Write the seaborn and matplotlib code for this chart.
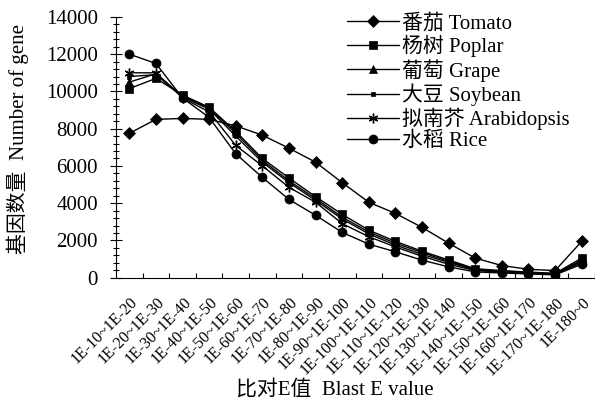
import numpy as np
import pandas as pd
import matplotlib
matplotlib.use("Agg")
import matplotlib.pyplot as plt
import seaborn as sns
from matplotlib.ticker import MultipleLocator, FixedLocator
from matplotlib.transforms import ScaledTranslation
from matplotlib.lines import Line2D

categories = ["1E-10~1E-20", "1E-20~1E-30", "1E-30~1E-40", "1E-40~1E-50",
              "1E-50~1E-60", "1E-60~1E-70", "1E-70~1E-80", "1E-80~1E-90",
              "1E-90~1E-100", "1E-100~1E-110", "1E-110~1E-120", "1E-120~1E-130",
              "1E-130~1E-140", "1E-140~1E-150", "1E-150~1E-160", "1E-160~1E-170",
              "1E-170~1E-180", "1E-180~0"]

tomato = [7750, 8500, 8550, 8500, 8150, 7650, 6950, 6200, 5100, 4050, 3450, 2700, 1850, 1050, 650, 450, 380, 1950]
poplar = [10150, 10700, 9800, 9150, 7850, 6400, 5350, 4350, 3400, 2550, 1950, 1420, 950, 480, 380, 300, 230, 1050]
grape = [10500, 10950, 9750, 9100, 7750, 6300, 5200, 4250, 3250, 2450, 1850, 1350, 880, 450, 350, 280, 210, 950]
soybean = [10800, 10900, 9700, 9050, 7600, 6200, 5100, 4150, 3150, 2350, 1750, 1250, 820, 420, 330, 260, 200, 880]
arabidopsis = [11000, 11000, 9650, 8900, 7100, 6000, 4850, 4050, 2900, 2200, 1650, 1150, 720, 380, 300, 240, 180, 800]
rice = [12000, 11500, 9650, 8600, 6650, 5380, 4200, 3350, 2430, 1800, 1390, 940, 580, 310, 250, 200, 150, 720]

series_names = ["番茄 Tomato", "杨树 Poplar", "葡萄 Grape", "大豆 Soybean",
                "拟南芥 Arabidopsis", "水稻 Rice"]
series_values = [tomato, poplar, grape, soybean, arabidopsis, rice]

y_ticks = [0, 2000, 4000, 6000, 8000, 10000, 12000, 14000]
x_label = "比对E值  Blast E value"
y_label = "基因数量  Number of gene"

sns.set_theme(style="ticks")
plt.rcParams["font.family"] = ["Liberation Serif", "Noto Sans CJK SC"]
plt.rcParams["axes.edgecolor"] = "black"
plt.rcParams["xtick.color"] = "black"
plt.rcParams["ytick.color"] = "black"
plt.rcParams["text.color"] = "black"
plt.rcParams["axes.linewidth"] = 0.8

markers = ["D", "s", "^", "s", (6, 2, 0), "o"]
msizes = [5.8, 6.0, 6.0, 3.0, 7.0, 6.5]
mews = [0.5, 0.5, 0.5, 0.5, 1.0, 0.5]

fig = plt.figure(figsize=(5.95, 4.03), dpi=100)
ax = fig.add_axes([0.195, 0.311, 0.805, 0.647])

handles = []
for name, vals, mk, ms, mew in zip(series_names, series_values, markers, msizes, mews):
    d = pd.DataFrame({"cat": categories, "val": vals})
    sns.lineplot(data=d, x="cat", y="val", sort=False, errorbar=None,
                 color="black", linewidth=1.0, marker=mk, markersize=ms,
                 markeredgecolor="black", markerfacecolor="black",
                 markeredgewidth=mew, ax=ax, legend=False)
    handles.append(Line2D([], [], color="black", lw=1.0, marker=mk,
                          markersize=ms, markeredgecolor="black",
                          markerfacecolor="black", markeredgewidth=mew))

ax.set_xlim(-0.5, len(categories) - 0.5)
ax.set_ylim(0, 14000)
ax.set_xlabel("")
ax.set_ylabel("")
sns.despine(ax=ax)

ax.set_yticks(y_ticks)
ax.set_yticklabels([str(t) for t in y_ticks], fontsize=15)
ax.yaxis.set_minor_locator(MultipleLocator(400))
ax.tick_params(axis="y", which="major", direction="inout", length=8, width=0.8, pad=9, left=True)
ax.tick_params(axis="y", which="minor", direction="inout", length=5, width=0.8, left=True)

ax.set_xticks(range(len(categories)))
ax.xaxis.set_minor_locator(FixedLocator(np.arange(0.5, len(categories), 1.0)))
ax.tick_params(axis="x", which="major", direction="in", length=0, pad=12,
               bottom=True, labelsize=11.5)
ax.tick_params(axis="x", which="minor", direction="in", length=3.5, width=0.8, bottom=True)
ax.set_xticklabels(categories, fontsize=11.5)
off = ScaledTranslation(0.005, 0, fig.dpi_scale_trans)
for lab in ax.get_xticklabels():
    lab.set_rotation(45)
    lab.set_ha("right")
    lab.set_va("top")
    lab.set_rotation_mode("anchor")
    lab.set_transform(lab.get_transform() + off)

fig.legend(handles, series_names, loc="upper left",
           bbox_to_anchor=(347 / 595, 1 - 14 / 403), frameon=False,
           fontsize=15, handlelength=2.5, handletextpad=0.15,
           labelspacing=0.08, borderpad=0, borderaxespad=0)

fig.text(335 / 595, 1 - 390 / 403, x_label, ha="center", va="center", fontsize=15)
fig.text(18 / 595, 1 - 139 / 403, y_label, ha="center", va="center",
         rotation=90, fontsize=15)

fig.savefig("out.png", dpi=100)
